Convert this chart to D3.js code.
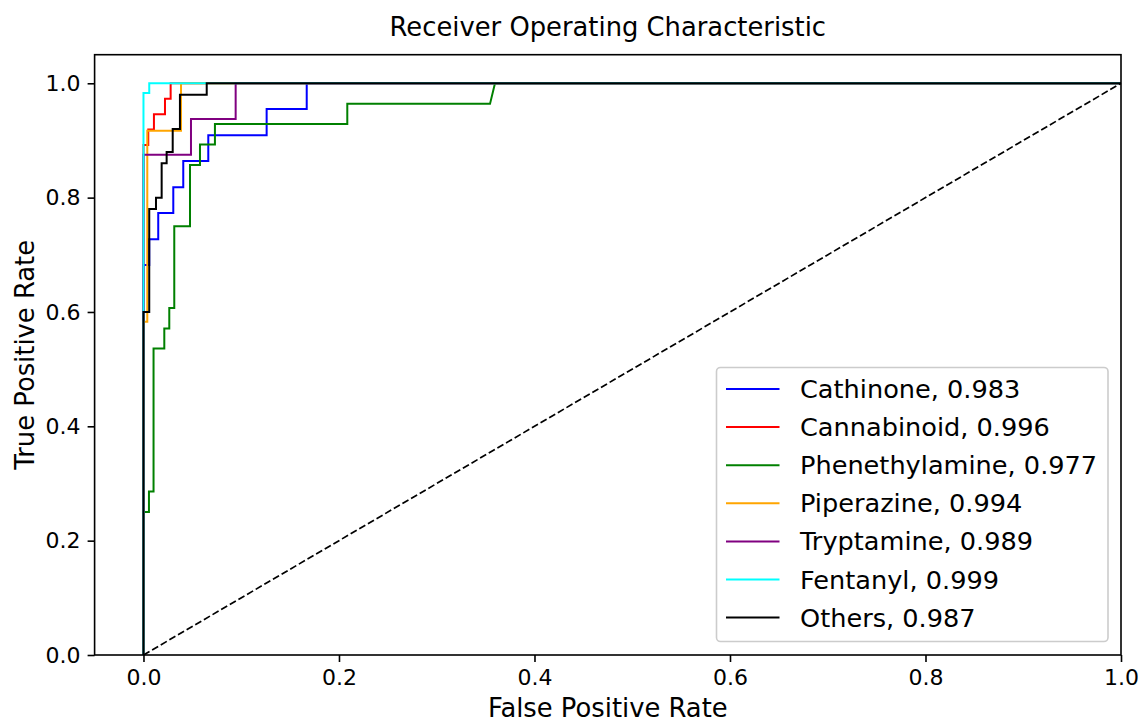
<!DOCTYPE html>
<html>
<head>
<meta charset="utf-8">
<script src="https://cdn.jsdelivr.net/npm/d3@7"></script>
<style>
  html, body { margin: 0; padding: 0; background: #ffffff; }
  svg { display: block; font-family: "DejaVu Sans", sans-serif; }
</style>
</head>
<body>
<svg id="chart" width="1148" height="725"></svg>
<script>
// ---- Data ----
const classNames = ["Cathinone", "Cannabinoid", "Phenethylamine", "Piperazine", "Tryptamine", "Fentanyl", "Others"];
const aucValues = [0.983, 0.996, 0.977, 0.994, 0.989, 0.999, 0.987];
const lineColors = ["blue", "red", "green", "orange", "purple", "cyan", "black"];

// ROC points as [false positive rate, true positive rate]
const cathinoneROC = [[0,0],[0,0.682],[0.0059,0.682],[0.0059,0.727],[0.0151,0.727],[0.0151,0.773],[0.0305,0.773],[0.0305,0.818],[0.0407,0.818],[0.0407,0.864],[0.0663,0.864],[0.0663,0.909],[0.126,0.909],[0.126,0.955],[0.167,0.955],[0.167,1],[1,1]];
const cannabinoidROC = [[0,0],[0,0.892],[0.0049,0.892],[0.0049,0.919],[0.0107,0.919],[0.0107,0.946],[0.022,0.946],[0.022,0.973],[0.0278,0.973],[0.0278,1],[1,1]];
const phenethylamineROC = [[0,0],[0,0.25],[0.0056,0.25],[0.0056,0.286],[0.0103,0.286],[0.0103,0.536],[0.0213,0.536],[0.0213,0.571],[0.0264,0.571],[0.0264,0.607],[0.0315,0.607],[0.0315,0.75],[0.0476,0.75],[0.0476,0.857],[0.0578,0.857],[0.0578,0.893],[0.0731,0.893],[0.0731,0.929],[0.2085,0.929],[0.2085,0.964],[0.3545,0.964],[0.3596,1],[1,1]];
const piperazineROC = [[0,0],[0,0.583],[0.0039,0.583],[0.0039,0.917],[0.0384,0.917],[0.0384,1],[1,1]];
const tryptamineROC = [[0,0],[0,0.875],[0.0486,0.875],[0.0486,0.9375],[0.0943,0.9375],[0.0943,1],[1,1]];
const fentanylROC = [[0,0],[0,0.983],[0.0059,0.983],[0.0059,1],[1,1]];
const othersROC = [[0,0],[0,0.60],[0.0059,0.60],[0.0059,0.78],[0.0128,0.78],[0.0128,0.80],[0.0186,0.80],[0.0186,0.86],[0.0237,0.86],[0.0237,0.88],[0.0299,0.88],[0.0299,0.92],[0.0373,0.92],[0.0373,0.98],[0.0647,0.98],[0.0647,1],[1,1]];
const chanceLine = [[0,0],[1,1]];

const xTickValues = [0.0, 0.2, 0.4, 0.6, 0.8, 1.0];
const yTickValues = [0.0, 0.2, 0.4, 0.6, 0.8, 1.0];
const titleText = "Receiver Operating Characteristic";
const xLabelText = "False Positive Rate";
const yLabelText = "True Positive Rate";

const rocSeries = [cathinoneROC, cannabinoidROC, phenethylamineROC, piperazineROC, tryptamineROC, fentanylROC, othersROC];

// ---- Layout ----
const plot = { left: 94.6, right: 1121, top: 54.7, bottom: 655 };
const svg = d3.select("#chart");

const x = d3.scaleLinear().domain([-0.05, 1.0]).range([plot.left, plot.right]);
const y = d3.scaleLinear().domain([0, 1.05]).range([plot.bottom, plot.top]);

const line = d3.line().x(d => x(d[0])).y(d => y(d[1]));

// curves
const curves = svg.append("g");
rocSeries.forEach((pts, i) => {
  curves.append("path")
    .datum(pts)
    .attr("d", line)
    .attr("fill", "none")
    .attr("stroke", lineColors[i])
    .attr("stroke-width", 2)
    .attr("stroke-linejoin", "miter");
});

// chance diagonal
svg.append("path")
  .datum(chanceLine)
  .attr("d", line)
  .attr("fill", "none")
  .attr("stroke", "black")
  .attr("stroke-width", 1.7)
  .attr("stroke-dasharray", "7,3");

// axes
const fmt = d3.format(".1f");
const xAxis = svg.append("g")
  .attr("transform", `translate(0,${plot.bottom})`)
  .call(d3.axisBottom(x).tickValues(xTickValues).tickFormat(fmt).tickSize(7).tickPadding(7));
const yAxis = svg.append("g")
  .attr("transform", `translate(${plot.left},0)`)
  .call(d3.axisLeft(y).tickValues(yTickValues).tickFormat(fmt).tickSize(7).tickPadding(7));

[xAxis, yAxis].forEach(g => {
  g.select(".domain").remove();
  g.selectAll(".tick line").attr("stroke", "black").attr("stroke-width", 1.6);
  g.selectAll(".tick text")
    .attr("font-family", "DejaVu Sans, sans-serif")
    .attr("font-size", 22)
    .attr("fill", "black");
});

// frame
svg.append("rect")
  .attr("x", plot.left)
  .attr("y", plot.top)
  .attr("width", plot.right - plot.left)
  .attr("height", plot.bottom - plot.top)
  .attr("fill", "none")
  .attr("stroke", "black")
  .attr("stroke-width", 1.6);

// title & labels
const cx = (plot.left + plot.right) / 2;
const cy = (plot.top + plot.bottom) / 2;
svg.append("text")
  .attr("x", cx).attr("y", 36)
  .attr("text-anchor", "middle")
  .attr("font-size", 25.8)
  .text(titleText);
svg.append("text")
  .attr("x", cx).attr("y", 716.5)
  .attr("text-anchor", "middle")
  .attr("font-size", 25.8)
  .text(xLabelText);
svg.append("text")
  .attr("transform", `translate(34,${cy}) rotate(-90)`)
  .attr("text-anchor", "middle")
  .attr("font-size", 25.8)
  .text(yLabelText);

// legend
const legend = svg.append("g");
legend.append("rect")
  .attr("x", 716.5).attr("y", 367.5)
  .attr("width", 391.5).attr("height", 274)
  .attr("rx", 4).attr("ry", 4)
  .attr("fill", "white").attr("fill-opacity", 0.8)
  .attr("stroke", "#cccccc").attr("stroke-width", 1.6);

classNames.forEach((name, i) => {
  const ly = 389 + i * 38.1;
  legend.append("line")
    .attr("x1", 726).attr("x2", 779.5)
    .attr("y1", ly).attr("y2", ly)
    .attr("stroke", lineColors[i])
    .attr("stroke-width", 2);
  legend.append("text")
    .attr("x", 800).attr("y", ly + 9)
    .attr("font-size", 25.6)
    .text(`${name}, ${aucValues[i]}`);
});
</script>
</body>
</html>
